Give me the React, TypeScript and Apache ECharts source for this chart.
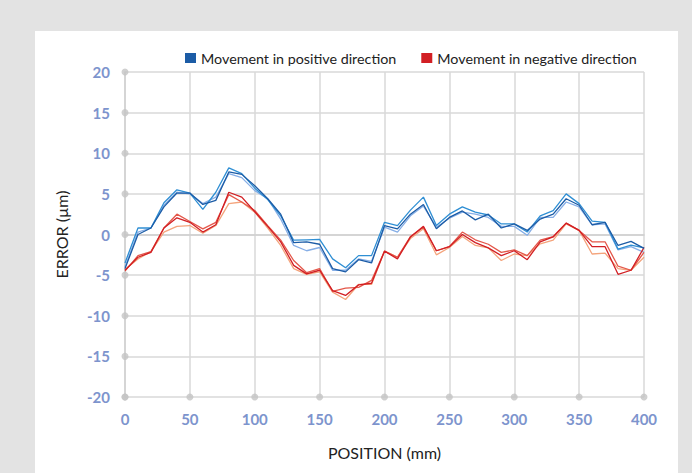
import React, { useEffect, useRef } from "react";
import * as echarts from "echarts";

const positions = [0,10,20,30,40,50,60,70,80,90,100,110,120,130,140,150,160,170,180,190,200,210,220,230,240,250,260,270,280,290,300,310,320,330,340,350,360,370,380,390,400];

const pos1 = [-4.2,0.0,0.8,3.4,5.1,5.1,3.7,4.2,7.7,7.4,6.0,4.4,2.5,-1.0,-0.9,-1.2,-4.2,-4.6,-3.1,-3.5,1.1,0.7,2.5,3.7,0.7,2.1,2.9,1.8,2.5,0.8,1.3,0.5,1.9,2.5,4.4,3.6,1.2,1.5,-1.35,-0.85,-1.7];
const pos2 = [-3.5,0.8,0.8,3.9,5.5,5.1,3.1,5.2,8.2,7.5,5.7,4.3,2.3,-0.7,-0.65,-0.6,-3.0,-4.1,-2.6,-2.6,1.5,1.1,3.0,4.6,1.1,2.5,3.4,2.75,2.4,1.3,1.3,0.3,2.3,2.95,5.0,3.8,1.65,1.5,-1.8,-1.3,-1.65];
const pos3 = [-4.0,0.3,0.8,3.6,5.2,5.0,3.8,4.6,7.5,7.0,5.4,4.4,1.9,-1.35,-2.0,-1.6,-4.4,-4.4,-3.0,-3.3,0.9,0.3,2.3,3.5,0.9,2.0,2.75,2.5,2.1,1.0,1.0,-0.1,2.1,2.1,4.0,3.4,1.2,1.3,-1.9,-1.5,-2.2];
const neg1 = [-4.4,-2.8,-2.2,0.8,2.05,1.5,0.3,1.2,5.2,4.6,2.8,1.0,-0.9,-3.8,-4.85,-4.4,-6.9,-7.5,-6.2,-6.0,-2.05,-3.0,-0.3,1.0,-2.0,-1.5,0.0,-1.0,-1.65,-2.6,-2.0,-3.1,-0.9,-0.3,1.4,0.5,-1.5,-1.5,-4.9,-4.4,-1.6];
const neg2 = [-4.5,-2.6,-2.1,0.8,2.5,1.6,0.7,1.5,4.9,4.0,2.95,1.1,-0.7,-3.2,-4.7,-4.2,-7.0,-6.6,-6.5,-5.65,-2.05,-2.8,-0.25,0.9,-2.0,-1.5,0.3,-0.65,-1.2,-2.2,-1.9,-2.6,-0.7,-0.25,1.4,0.5,-0.9,-0.9,-3.9,-4.4,-2.2];
const neg3 = [-4.3,-3.0,-2.1,0.3,1.0,1.1,0.15,1.1,3.8,4.0,2.75,0.8,-1.35,-4.2,-4.9,-4.6,-7.1,-8.0,-6.15,-6.15,-2.05,-2.8,-0.5,0.7,-2.5,-1.6,-0.25,-1.35,-1.65,-3.2,-2.4,-2.6,-1.15,-0.7,1.3,0.5,-2.4,-2.3,-4.2,-4.4,-2.8];

const xTicks = [0,50,100,150,200,250,300,350,400];
const yTicks = [-20,-15,-10,-5,0,5,10,15,20];

const POS_NAME = "Movement in positive direction";
const NEG_NAME = "Movement in negative direction";

const FONT = "Lato, 'Noto Sans', sans-serif";

export default function App() {
  const ref = useRef<HTMLDivElement>(null);
  useEffect(() => {
    document.body.style.margin = "0";
    if (!ref.current) return;
    const chart = echarts.init(ref.current, null, { renderer: "svg" });
    const mk = (name: string, data: number[], color: string, z: number) => ({
      type: "line",
      name,
      data: positions.map((p, i) => [p, data[i]]),
      showSymbol: false,
      symbol: "none",
      z,
      lineStyle: { color, width: 1.3 },
      itemStyle: { color },
      silent: true,
    });
    chart.setOption({
      animation: false,
      backgroundColor: "#e3e3e3",
      textStyle: { fontFamily: FONT },
      graphic: [
        {
          type: "rect",
          z: -10,
          silent: true,
          shape: { x: 35, y: 31, width: 643, height: 460 },
          style: { fill: "#ffffff" },
        },
      ],
      legend: {
        data: [POS_NAME, NEG_NAME],
        left: 180,
        top: 46,
        icon: "rect",
        itemWidth: 11,
        itemHeight: 10,
        itemGap: 25,
        textStyle: { fontFamily: FONT, fontSize: 14.3, color: "#222222" },
      },
      grid: { left: 125, right: 48, top: 72, bottom: 76, containLabel: false },
      xAxis: {
        type: "value",
        min: 0,
        max: 400,
        interval: 50,
        name: "POSITION (mm)",
        nameLocation: "middle",
        nameGap: 47,
        nameTextStyle: { fontFamily: FONT, fontSize: 16, color: "#222222" },
        axisLine: { show: true, lineStyle: { color: "#d0d0d0", width: 1.5 } },
        axisTick: { show: false },
        axisLabel: { color: "#7d94cd", fontWeight: "bold", fontSize: 15, margin: 14, fontFamily: FONT },
        splitLine: { show: true, lineStyle: { color: "#d9d9d9", width: 1.5 } },
      },
      yAxis: {
        type: "value",
        min: -20,
        max: 20,
        interval: 5,
        name: "ERROR (µm)",
        nameLocation: "middle",
        nameGap: 56,
        nameRotate: 90,
        nameTextStyle: { fontFamily: FONT, fontSize: 16, color: "#222222" },
        axisLine: { show: true, onZero: false, lineStyle: { color: "#d0d0d0", width: 1.5 } },
        axisTick: { show: false },
        axisLabel: { color: "#7d94cd", fontWeight: "bold", fontSize: 15, margin: 15, fontFamily: FONT },
        splitLine: { show: true, lineStyle: { color: "#d9d9d9", width: 1.5 } },
      },
      series: [
        {
          type: "scatter",
          name: "ticks",
          silent: true,
          symbolSize: 7,
          z: 1,
          itemStyle: { color: "#c4c4c4" },
          data: [
            ...yTicks.map((y) => [0, y]),
            ...xTicks.map((x) => [x, -20]),
          ],
        },
        mk("neg3", neg3, "#f4a47c", 3),
        mk("neg2", neg2, "#e4584a", 4),
        mk(NEG_NAME, neg1, "#d21f24", 5),
        mk("pos3", pos3, "#86aee6", 3),
        mk("pos2", pos2, "#2f8fd4", 4),
        mk(POS_NAME, pos1, "#1c5ca6", 5),
      ],
    });
    return () => chart.dispose();
  }, []);
  return <div ref={ref} style={{ width: 692, height: 473 }} />;
}
